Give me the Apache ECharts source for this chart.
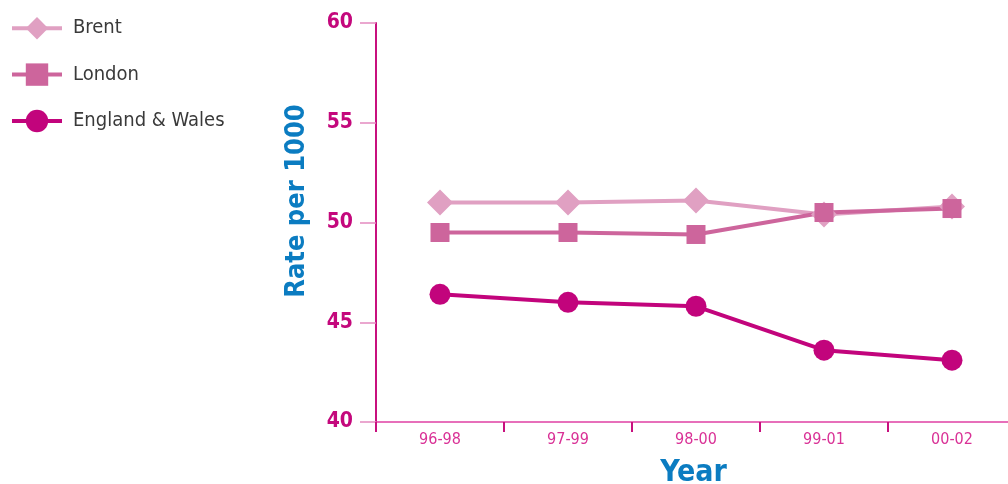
<!DOCTYPE html>
<html>
<head>
<meta charset="utf-8">
<script src="https://cdn.jsdelivr.net/npm/echarts@6/dist/echarts.min.js"></script>
<style>
  html, body { margin: 0; padding: 0; background: #ffffff; }
  #chart { width: 1008px; height: 484px; }
</style>
</head>
<body>
<div id="chart"></div>
<script>
// Three-year rolling periods
const periods = ['96-98', '97-99', '98-00', '99-01', '00-02'];

// Rate per 1000 for each area
const brent = [51.0, 51.0, 51.1, 50.4, 50.8];
const london = [49.5, 49.5, 49.4, 50.5, 50.7];
const englandWales = [46.4, 46.0, 45.8, 43.6, 43.1];

// Value-axis range
const yMin = 40;
const yMax = 60;
const yStep = 5;

const FONT = '"Liberation Sans Narrow", "DejaVu Sans Condensed", "Open Sans", sans-serif';

const chart = echarts.init(document.getElementById('chart'), null, { renderer: 'canvas' });

function lineSeries(name, data, color, symbol, size) {
  return {
    name: name,
    type: 'line',
    data: data,
    symbol: symbol,
    symbolSize: size,
    showAllSymbol: true,
    lineStyle: { color: color, width: 4 },
    itemStyle: { color: color },
    emphasis: { disabled: true },
    animation: false,
    z: 3
  };
}

chart.setOption({
  animation: false,
  backgroundColor: '#ffffff',
  legend: {
    orient: 'vertical',
    left: 10,
    top: 17,
    padding: 0,
    itemWidth: 50,
    itemHeight: 28,
    itemGap: 24,
    lineStyle: { width: 4 },
    textStyle: { fontFamily: FONT, fontSize: 20, color: '#3a3a3a', padding: [0, 0, 0, 6] },
    data: ['Brent', 'London', 'England & Wales']
  },
  grid: { left: 376, top: 23, width: 640, height: 399, containLabel: false, outerBoundsMode: 'none' },
  xAxis: {
    type: 'category',
    data: periods,
    boundaryGap: true,
    axisLine: { show: true, lineStyle: { color: '#e040a4', width: 1.5 } },
    axisTick: { show: true, length: 10, lineStyle: { color: '#c8107e', width: 2 } },
    axisLabel: { fontFamily: FONT, fontSize: 16, color: '#d93196', margin: 10 },
    splitLine: { show: false },
    name: 'Year',
    nameLocation: 'middle',
    nameGap: 36,
    nameTextStyle: { fontFamily: FONT, fontSize: 30, fontWeight: 'bold', color: '#0b7cc1', padding: [0, 0, 0, -5] }
  },
  yAxis: {
    type: 'value',
    min: yMin,
    max: yMax,
    interval: yStep,
    axisLine: { show: true, onZero: false, lineStyle: { color: '#c8107e', width: 2 } },
    axisTick: { show: true, length: 16, lineStyle: { color: '#e48ac0', width: 1.5 } },
    axisLabel: { fontFamily: FONT, fontSize: 21, fontWeight: 'bold', color: '#c4087c', margin: 23 },
    splitLine: { show: false }
  },
  graphic: [{
    type: 'text',
    x: 297,
    y: 201,
    rotation: Math.PI / 2,
    style: {
      text: 'Rate per 1000',
      fontFamily: FONT,
      fontSize: 27,
      fontWeight: 'bold',
      fill: '#0b7cc1',
      align: 'center',
      verticalAlign: 'middle'
    }
  }],
  series: [
    lineSeries('Brent', brent, '#e0a0c2', 'diamond', 26),
    lineSeries('London', london, '#cd659c', 'rect', 19),
    lineSeries('England & Wales', englandWales, '#c2047c', 'circle', 21)
  ]
});
</script>
</body>
</html>
